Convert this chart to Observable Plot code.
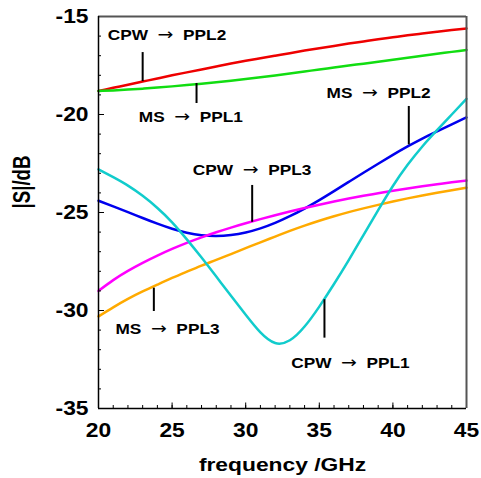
<!DOCTYPE html>
<html><head><meta charset="utf-8">
<script src="https://cdn.jsdelivr.net/npm/d3@7"></script>
<script src="https://cdn.jsdelivr.net/npm/@observablehq/plot@0.6"></script>
<style>body{margin:0;background:#fff}</style>
</head><body><div id="chart"></div>
<script>
const freq = [20,21,22,23,24,25,26,27,28,29,30,31,32,33,34,35,36,37,38,39,40,41,42,43,44,45];
// CPW -> PPL2 (red)
const cpwPpl2 = [-18.8,-18.64,-18.48,-18.32,-18.16,-18.0,-17.85,-17.7,-17.55,-17.4,-17.26,-17.13,-17.0,-16.87,-16.74,-16.62,-16.5,-16.38,-16.27,-16.16,-16.06,-15.96,-15.87,-15.78,-15.69,-15.61];
// MS -> PPL1 (green)
const msPpl1 = [-18.8,-18.77,-18.73,-18.68,-18.625,-18.565,-18.5,-18.43,-18.355,-18.275,-18.19,-18.1,-18.005,-17.905,-17.805,-17.705,-17.605,-17.505,-17.405,-17.305,-17.205,-17.105,-17.005,-16.905,-16.805,-16.705];
// MS -> PPL2 (blue)
const msPpl2 = [-24.4,-24.69,-24.98,-25.28,-25.57,-25.83,-26.03,-26.16,-26.2,-26.15,-26.02,-25.81,-25.53,-25.19,-24.8,-24.37,-23.91,-23.44,-22.97,-22.51,-22.06,-21.63,-21.23,-20.86,-20.5,-20.15];
// CPW -> PPL3 (magenta)
const cpwPpl3 = [-29.0,-28.45,-27.98,-27.57,-27.2,-26.86,-26.55,-26.27,-26.01,-25.77,-25.55,-25.34,-25.14,-24.95,-24.77,-24.6,-24.44,-24.29,-24.15,-24.02,-23.89,-23.77,-23.66,-23.56,-23.46,-23.37];
// MS -> PPL3 (orange)
const msPpl3 = [-30.3,-29.84,-29.41,-29.03,-28.68,-28.34,-28.02,-27.71,-27.42,-27.12,-26.82,-26.52,-26.23,-25.94,-25.67,-25.42,-25.19,-24.98,-24.79,-24.61,-24.44,-24.28,-24.13,-23.99,-23.86,-23.74];
// CPW -> PPL1 (cyan)
const cpwPpl1 = [-22.8,-23.2,-23.63,-24.15,-24.77,-25.5,-26.37,-27.3,-28.27,-29.25,-30.22,-31.12,-31.66,-31.52,-30.82,-29.8,-28.65,-27.43,-26.15,-24.88,-23.65,-22.57,-21.63,-20.8,-20.0,-19.2];

const seriesNames = ["CPW → PPL2","MS → PPL1","MS → PPL2","CPW → PPL3","MS → PPL3","CPW → PPL1"];
const seriesValues = [cpwPpl2, msPpl1, msPpl2, cpwPpl3, msPpl3, cpwPpl1];
const seriesColors = ["#ee0000","#11dd11","#0000ee","#ff00ff","#ffaa00","#11cccc"];

const xDomain = [20, 45];
const yDomain = [-35, -15];
const xMajor = [20,25,30,35,40,45];
const xMinor = d3.range(20, 46, 1);
const yMajor = [-35,-30,-25,-20,-15];
const yMinor = d3.range(-35, -14, 1);
const xTitle = "frequency /GHz";
const yTitle = "|S|/dB";

// annotation labels, marker positions in data units
const annLabels = ["CPW → PPL2","MS → PPL1","CPW → PPL3","MS → PPL2","MS → PPL3","CPW → PPL1"];
const annMarkX  = [23.0, 26.66, 30.44, 41.08, 23.76, 35.35];
const annMarkY1 = [-16.84, -18.42, -23.62, -19.59, -28.86, -29.45];
const annMarkY2 = [-18.32, -19.44, -25.5, -21.55, -30.05, -31.41];
const annTextX  = [20.63, 22.74, 26.41, 35.49, 21.15, 33.09];
const annTextY  = [-15.63, -19.83, -22.52, -18.61, -30.65, -32.38];

const annotations = annLabels.map((label, i) => ({label, mx: annMarkX[i], my1: annMarkY1[i], my2: annMarkY2[i], tx: annTextX[i], ty: annTextY[i]}));

const lineMarks = seriesNames.map((name, k) =>
  Plot.line(freq.map((f, i) => ({f, v: seriesValues[k][i]})), {x: "f", y: "v", stroke: seriesColors[k], strokeWidth: 2.5, curve: "natural"})
);

const plot = Plot.plot({
  width: 481, height: 478,
  marginLeft: 98, marginRight: 15, marginTop: 16, marginBottom: 70,
  style: {fontFamily: "'Liberation Sans', Arial, sans-serif", fontWeight: "bold", background: "#fff", color: "#000", overflow: "visible"},
  x: {domain: xDomain},
  y: {domain: yDomain},
  marks: [
    ...lineMarks,
    Plot.ruleX(annotations, {x: "mx", y1: "my1", y2: "my2", stroke: "#000", strokeWidth: 2}),
    Plot.text(annotations, {x: "tx", y: "ty", text: d => d.label.replaceAll(" ", "\u00a0\u00a0"), textAnchor: "start", lineAnchor: "top", fontSize: 15, fontWeight: "bold", fill: "#000"}),
    Plot.axisY(yMinor, {tickSize: -3, tickFormat: () => "", label: null, stroke: "#000"}),
    Plot.axisY(yMajor, {tickSize: -6, tickFormat: () => "", label: null, stroke: "#000"}),
    Plot.axisY(yMajor, {tickSize: 0, tickPadding: 10, tickFormat: d => String(d), label: null, fontSize: 19.5, fontWeight: "bold", fill: "#000"}),
    Plot.axisX(xMinor, {tickSize: -3, tickFormat: () => "", label: null, stroke: "#000"}),
    Plot.axisX(xMajor, {tickSize: -5.5, tickFormat: () => "", label: null, stroke: "#000"}),
    Plot.axisX(xMajor, {tickSize: 0, tickPadding: 15, tickFormat: d => String(d), label: null, fontSize: 19.5, fontWeight: "bold", fill: "#000"}),
    Plot.ruleY([yDomain[1]], {stroke: "#555", strokeWidth: 2}),
    Plot.ruleX([xDomain[1]], {stroke: "#555", strokeWidth: 2}),
    Plot.ruleX([xDomain[0]], {stroke: "#000", strokeWidth: 1.5}),
    Plot.ruleY([yDomain[0]], {stroke: "#000", strokeWidth: 1.5}),
    Plot.text([xTitle], {text: d => d, frameAnchor: "bottom", lineAnchor: "top", dy: 49.3, fontSize: 19, fontWeight: "bold", fill: "#000"}),
    Plot.text([yTitle], {text: d => d, frameAnchor: "left", rotate: -90, lineAnchor: "top", dx: -84.7, dy: -4, fontSize: 23, fontWeight: "bold", fill: "#000"})
  ]
});
document.getElementById("chart").append(plot);

// horizontal stretch of text to match the reference's wide lettering
const NS = "http://www.w3.org/2000/svg";
plot.querySelectorAll("text").forEach(t => {
  const s = t.textContent;
  let factor = null;
  if (s.includes("→")) {
    const parts = s.split("→");
    t.textContent = "";
    const a = document.createElementNS(NS, "tspan"); a.textContent = parts[0];
    const b = document.createElementNS(NS, "tspan"); b.textContent = "→";
    b.setAttribute("font-weight", "normal");
    b.setAttribute("font-family", "'DejaVu Sans', sans-serif");
    b.setAttribute("font-size", "16.5");
    const c = document.createElementNS(NS, "tspan"); c.textContent = parts[1];
    t.append(a, b, c);
    factor = 1.15;
  } else if (/^-?\d+$/.test(s)) {
    factor = 1.17;
  } else if (s === xTitle) {
    factor = 1.2;
  } else if (s === yTitle) {
    t.setAttribute("textLength", 53);
    t.setAttribute("lengthAdjust", "spacingAndGlyphs");
  }
  if (factor) {
    const L = t.getComputedTextLength();
    t.setAttribute("textLength", (L * factor).toFixed(2));
    t.setAttribute("lengthAdjust", "spacingAndGlyphs");
  }
});
</script>
</body></html>
